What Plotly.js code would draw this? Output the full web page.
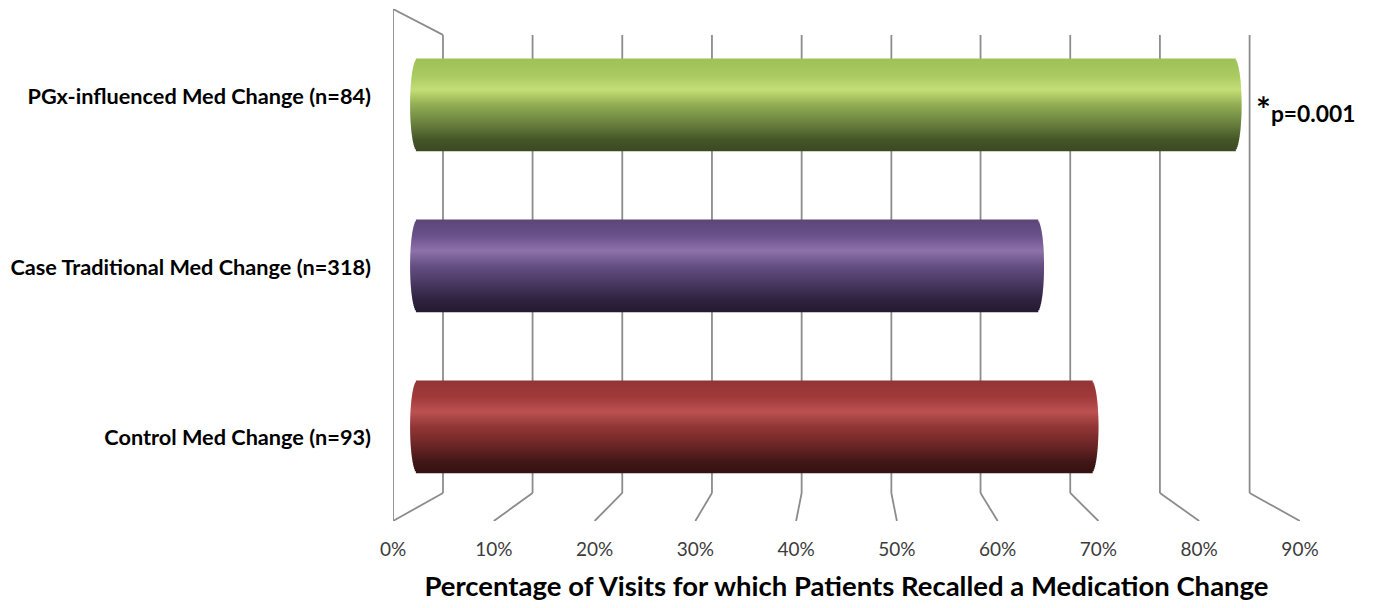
<!DOCTYPE html>
<html>
<head>
<meta charset="utf-8">
<script src="https://cdn.plot.ly/plotly-3.0.0.min.js"></script>
<style>html,body{margin:0;padding:0;background:#fff}#chart{width:1375px;height:608px}</style>
</head>
<body>
<div id="chart"></div>
<script>
// Data
const categories = ["Control Med Change (n=93)", "Case Traditional Med Change (n=318)", "PGx-influenced Med Change (n=84)"];
const values = [70, 64.6, 84.2];
const xTicks = [0, 10, 20, 30, 40, 50, 60, 70, 80, 90];
const xTickLabels = ["0%", "10%", "20%", "30%", "40%", "50%", "60%", "70%", "80%", "90%"];
const backWallTicks = [4.96, 13.85, 22.75, 31.65, 40.55, 49.45, 58.3, 67.2, 76.1, 85.0];

// Cylinder shading, top to bottom: [position, r, g, b]
const shading = [
  [[0, 158, 192, 88], [0.18, 168, 202, 96], [0.34, 196, 222, 118], [0.5, 146, 174, 84], [0.7, 106, 130, 62], [0.88, 68, 86, 40], [1, 60, 74, 34]],
  [[0, 92, 70, 120], [0.18, 106, 82, 138], [0.34, 142, 114, 170], [0.5, 102, 80, 132], [0.7, 72, 56, 96], [0.88, 46, 33, 62], [1, 38, 26, 50]],
  [[0, 146, 52, 52], [0.18, 160, 58, 58], [0.34, 188, 82, 82], [0.5, 146, 54, 54], [0.7, 108, 38, 38], [0.88, 66, 22, 22], [1, 54, 18, 18]]
];

// Geometry
const barBase = 1.7, capDepth = 0.72, barHeight = 0.572, bandCount = 46;
const yBottomFront = -0.584, yBottomBack = -0.41, yTopFront = 2.596, yTopBack = 2.435;
const gridColor = "#8c8c8c";

function shade(stops, t) {
  let k = 0;
  while (k < stops.length - 2 && t > stops[k + 1][0]) k++;
  const a = stops[k], b = stops[k + 1], f = (t - a[0]) / (b[0] - a[0]);
  return `rgb(${[1, 2, 3].map(i => Math.round(a[i] + (b[i] - a[i]) * f)).join(",")})`;
}

const traces = [];
values.forEach((value, cat) => {
  const row = 2 - cat;
  const ys = [], xs = [], bases = [], colors = [], widths = [];
  for (let i = 0; i < bandCount; i++) {
    const t = (i + 0.5) / bandCount, u = 2 * t - 1;
    const inset = capDepth * (1 - Math.sqrt(1 - u * u));
    ys.push(cat + (0.5 - t) * barHeight);
    bases.push(barBase + inset);
    xs.push(value - 2 * inset - barBase);
    colors.push(shade(shading[row], t));
    widths.push(barHeight / bandCount * 1.35);
  }
  traces.push({
    type: "bar", orientation: "h", y: ys, x: xs, base: bases, width: widths,
    marker: {color: colors, line: {width: 0}}, hoverinfo: "skip", showlegend: false
  });
});
traces.push({
  type: "scatter", mode: "markers", x: values, y: [0, 1, 2], yaxis: "y2",
  marker: {size: 1, opacity: 0}, hoverinfo: "skip", showlegend: false
});

const lineStyle = {color: gridColor, width: 1.8};
const shapes = [];
xTicks.forEach((tick, i) => {
  const back = backWallTicks[i];
  shapes.push({type: "line", layer: "below", xref: "x", yref: "y", x0: back, x1: back, y0: yBottomBack, y1: yTopBack, line: lineStyle});
  shapes.push({type: "line", layer: "below", xref: "x", yref: "y", x0: tick, x1: back, y0: yBottomFront, y1: yBottomBack, line: lineStyle});
});
shapes.push({type: "line", layer: "below", xref: "x", yref: "y", x0: 0, x1: 0, y0: yBottomFront, y1: yTopFront, line: lineStyle});
shapes.push({type: "line", layer: "below", xref: "x", yref: "y", x0: 0, x1: backWallTicks[0], y0: yTopFront, y1: yTopBack, line: lineStyle});

const layout = {
  width: 1375, height: 608,
  margin: {l: 393, r: 75, t: 9, b: 87, pad: 0},
  paper_bgcolor: "#fff", plot_bgcolor: "#fff",
  font: {family: "Lato, sans-serif"},
  barmode: "overlay", showlegend: false,
  xaxis: {
    range: [0, 90], tickmode: "array", tickvals: xTicks, ticktext: xTickLabels,
    showgrid: false, zeroline: false, showline: false, ticks: "", ticklen: 0, ticklabelstandoff: 15,
    tickfont: {family: "Lato, sans-serif", size: 19, color: "#3c3c3c"},
    title: {text: "Percentage of Visits for which Patients Recalled a Medication Change",
            font: {family: "Lato, sans-serif", size: 27.5, color: "#000", weight: 700}, standoff: 17},
    automargin: false
  },
  yaxis: {range: [yBottomFront, yTopFront], showticklabels: false, showgrid: false, zeroline: false, showline: false, ticks: ""},
  yaxis2: {
    overlaying: "y", side: "left", range: [-0.49, 2.513], tickmode: "array", tickvals: [0, 1, 2], ticktext: categories,
    tickfont: {family: "Lato, sans-serif", size: 21.7, color: "#000", weight: 700},
    showgrid: false, zeroline: false, showline: false, ticks: "", ticklabelstandoff: 21
  },
  shapes: shapes,
  annotations: [
    {xref: "x", yref: "y", x: 85.5, y: 1.98, text: "<span style=\"font-size:35px\">*</span>p=0.001", showarrow: false,
     xanchor: "left", yanchor: "middle", borderpad: 0,
     font: {family: "Lato, sans-serif", size: 22.8, color: "#000", weight: 700}}
  ]
};

Plotly.newPlot("chart", traces, layout, {displayModeBar: false, staticPlot: true});
</script>
</body>
</html>
